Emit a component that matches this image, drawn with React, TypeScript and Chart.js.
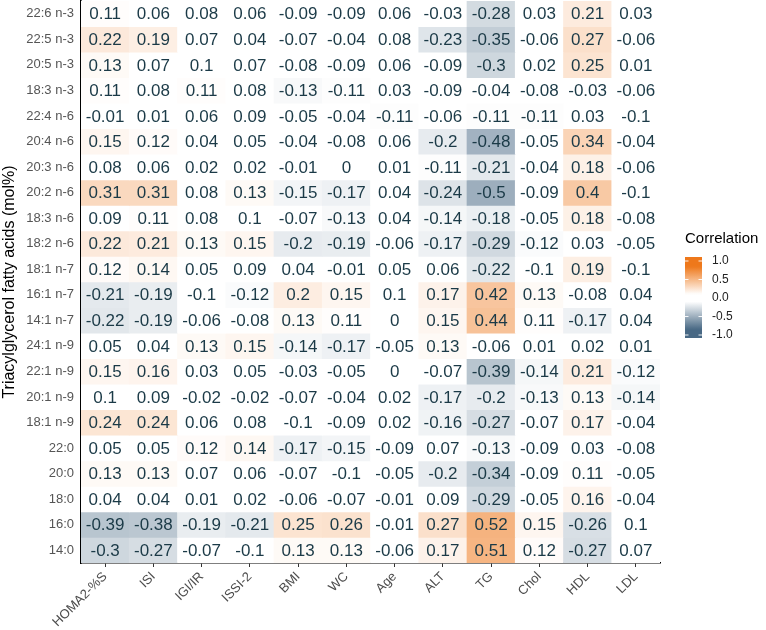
import React, { useEffect, useRef } from "react";
import { Chart, registerables } from "chart.js";

Chart.register(...registerables);

const columns = ["HOMA2-%S", "ISI", "IGI/IR", "ISSI-2", "BMI", "WC", "Age", "ALT", "TG", "Chol", "HDL", "LDL"];

const rowLabels = [
  "22:6 n-3", "22:5 n-3", "20:5 n-3", "18:3 n-3", "22:4 n-6", "20:4 n-6", "20:3 n-6", "20:2 n-6",
  "18:3 n-6", "18:2 n-6", "18:1 n-7", "16:1 n-7", "14:1 n-7", "24:1 n-9", "22:1 n-9", "20:1 n-9",
  "18:1 n-9", "22:0", "20:0", "18:0", "16:0", "14:0",
];

const r22_6n3 = [0.11, 0.06, 0.08, 0.06, -0.09, -0.09, 0.06, -0.03, -0.28, 0.03, 0.21, 0.03];
const r22_5n3 = [0.22, 0.19, 0.07, 0.04, -0.07, -0.04, 0.08, -0.23, -0.35, -0.06, 0.27, -0.06];
const r20_5n3 = [0.13, 0.07, 0.1, 0.07, -0.08, -0.09, 0.06, -0.09, -0.3, 0.02, 0.25, 0.01];
const r18_3n3 = [0.11, 0.08, 0.11, 0.08, -0.13, -0.11, 0.03, -0.09, -0.04, -0.08, -0.03, -0.06];
const r22_4n6 = [-0.01, 0.01, 0.06, 0.09, -0.05, -0.04, -0.11, -0.06, -0.11, -0.11, 0.03, -0.1];
const r20_4n6 = [0.15, 0.12, 0.04, 0.05, -0.04, -0.08, 0.06, -0.2, -0.48, -0.05, 0.34, -0.04];
const r20_3n6 = [0.08, 0.06, 0.02, 0.02, -0.01, 0, 0.01, -0.11, -0.21, -0.04, 0.18, -0.06];
const r20_2n6 = [0.31, 0.31, 0.08, 0.13, -0.15, -0.17, 0.04, -0.24, -0.5, -0.09, 0.4, -0.1];
const r18_3n6 = [0.09, 0.11, 0.08, 0.1, -0.07, -0.13, 0.04, -0.14, -0.18, -0.05, 0.18, -0.08];
const r18_2n6 = [0.22, 0.21, 0.13, 0.15, -0.2, -0.19, -0.06, -0.17, -0.29, -0.12, 0.03, -0.05];
const r18_1n7 = [0.12, 0.14, 0.05, 0.09, 0.04, -0.01, 0.05, 0.06, -0.22, -0.1, 0.19, -0.1];
const r16_1n7 = [-0.21, -0.19, -0.1, -0.12, 0.2, 0.15, 0.1, 0.17, 0.42, 0.13, -0.08, 0.04];
const r14_1n7 = [-0.22, -0.19, -0.06, -0.08, 0.13, 0.11, 0, 0.15, 0.44, 0.11, -0.17, 0.04];
const r24_1n9 = [0.05, 0.04, 0.13, 0.15, -0.14, -0.17, -0.05, 0.13, -0.06, 0.01, 0.02, 0.01];
const r22_1n9 = [0.15, 0.16, 0.03, 0.05, -0.03, -0.05, 0, -0.07, -0.39, -0.14, 0.21, -0.12];
const r20_1n9 = [0.1, 0.09, -0.02, -0.02, -0.07, -0.04, 0.02, -0.17, -0.2, -0.13, 0.13, -0.14];
const r18_1n9 = [0.24, 0.24, 0.06, 0.08, -0.1, -0.09, 0.02, -0.16, -0.27, -0.07, 0.17, -0.04];
const r22_0 = [0.05, 0.05, 0.12, 0.14, -0.17, -0.15, -0.09, 0.07, -0.13, -0.09, 0.03, -0.08];
const r20_0 = [0.13, 0.13, 0.07, 0.06, -0.07, -0.1, -0.05, -0.2, -0.34, -0.09, 0.11, -0.05];
const r18_0 = [0.04, 0.04, 0.01, 0.02, -0.06, -0.07, -0.01, 0.09, -0.29, -0.05, 0.16, -0.04];
const r16_0 = [-0.39, -0.38, -0.19, -0.21, 0.25, 0.26, -0.01, 0.27, 0.52, 0.15, -0.26, 0.1];
const r14_0 = [-0.3, -0.27, -0.07, -0.1, 0.13, 0.13, -0.06, 0.17, 0.51, 0.12, -0.27, 0.07];

const rowValues = [
  r22_6n3, r22_5n3, r20_5n3, r18_3n3, r22_4n6, r20_4n6, r20_3n6, r20_2n6, r18_3n6, r18_2n6, r18_1n7,
  r16_1n7, r14_1n7, r24_1n9, r22_1n9, r20_1n9, r18_1n9, r22_0, r20_0, r18_0, r16_0, r14_0,
];

const legendTicks = [1.0, 0.5, 0.0, -0.5, -1.0];
const legendTitle = "Correlation";
const yTitle = "Triacylglycerol fatty acids (mol%)";

const FONT = "'Liberation Sans', Arial, Helvetica, sans-serif";
const POS = [238, 120, 27];
const NEG = [72, 104, 132];
const TEXT = "#1b3a47";

function strength(v: number) {
  const t = (Math.abs(v) - 0.1) / 0.75;
  return Math.max(0, Math.min(1, t));
}
function mix(c: number[], k: number) {
  const r = Math.round(255 + (c[0] - 255) * k);
  const g = Math.round(255 + (c[1] - 255) * k);
  const b = Math.round(255 + (c[2] - 255) * k);
  return `rgb(${r},${g},${b})`;
}
function cellColor(v: number) {
  return v >= 0 ? mix(POS, strength(v)) : mix(NEG, strength(v));
}

const NROWS = rowLabels.length;

const labelsPlugin = {
  id: "cellLabels",
  afterDatasetsDraw(chart: any) {
    const { ctx, scales } = chart;
    const x = scales.x;
    const y = scales.y;
    ctx.save();
    ctx.font = `17px ${FONT}`;
    ctx.fillStyle = TEXT;
    ctx.textAlign = "center";
    ctx.textBaseline = "middle";
    rowValues.forEach((row, i) => {
      row.forEach((v, j) => {
        ctx.fillText(String(v), x.getPixelForValue(j), y.getPixelForValue(NROWS - 0.5 - i) + 1);
      });
    });
    ctx.restore();
  },
};

const legendPlugin = {
  id: "colorLegend",
  afterDraw(chart: any) {
    const { ctx, chartArea } = chart;
    const left = chartArea.right + 25;
    const barW = 17;
    const barTop = 257;
    const barBot = 338;
    const tickTop = 261;
    const tickBot = 335;
    ctx.save();
    ctx.font = `15px ${FONT}`;
    ctx.fillStyle = "#000";
    ctx.textAlign = "left";
    ctx.textBaseline = "middle";
    ctx.fillText(legendTitle, left, 239);
    const grad = ctx.createLinearGradient(0, barTop, 0, barBot);
    for (let s = 0; s <= 40; s++) {
      const yy = barTop + (s / 40) * (barBot - barTop);
      const v = 1 - ((yy - tickTop) / (tickBot - tickTop)) * 2;
      grad.addColorStop(s / 40, cellColor(Math.max(-1, Math.min(1, v))));
    }
    ctx.fillStyle = grad;
    ctx.fillRect(left, barTop, barW, barBot - barTop);
    ctx.strokeStyle = "rgba(255,255,255,0.9)";
    ctx.lineWidth = 1;
    ctx.font = `12px ${FONT}`;
    ctx.fillStyle = "#222";
    legendTicks.forEach((v) => {
      const yy = tickTop + ((1 - v) / 2) * (tickBot - tickTop);
      ctx.beginPath();
      ctx.moveTo(left, yy);
      ctx.lineTo(left + 3.5, yy);
      ctx.moveTo(left + barW - 3.5, yy);
      ctx.lineTo(left + barW, yy);
      ctx.stroke();
      ctx.fillText(v.toFixed(1), left + 27, yy);
    });
    ctx.restore();
  },
};

export default function App() {
  const ref = useRef<HTMLCanvasElement | null>(null);
  useEffect(() => {
    if (!ref.current) return;
    Chart.defaults.font.family = FONT;
    const datasets = rowValues.map((row, i) => ({
      label: rowLabels[i],
      data: row.map(() => [NROWS - 1 - i, NROWS - i]),
      backgroundColor: row.map((v) => cellColor(v)),
      borderWidth: 0,
      barPercentage: 1,
      categoryPercentage: 1,
      grouped: false,
    }));
    const chart = new Chart(ref.current, {
      type: "bar",
      data: { labels: columns, datasets: datasets as any },
      plugins: [labelsPlugin, legendPlugin],
      options: {
        animation: false,
        responsive: true,
        maintainAspectRatio: false,
        layout: { padding: { left: 0, right: 106, top: 1, bottom: 0 } },
        plugins: { legend: { display: false }, tooltip: { enabled: false } },
        scales: {
          x: {
            type: "category",
            offset: true,
            grid: { display: true, drawOnChartArea: false, drawTicks: true, tickLength: 4, offset: false, color: "#333", lineWidth: 1 },
            border: { display: true, color: "#000", width: 1.6 },
            ticks: {
              autoSkip: false,
              minRotation: 45,
              maxRotation: 45,
              color: "#4d4d4d",
              padding: 2,
              font: { size: 13, family: FONT },
            },
            afterFit: (scale: any) => {
              scale.height = 67;
              scale.paddingLeft = 0;
              scale.paddingRight = 0;
            },
          } as any,
          y: {
            type: "linear",
            min: 0,
            max: NROWS,
            grid: { display: true, drawOnChartArea: false, drawTicks: false },
            border: { display: true, color: "#000", width: 1.6 },
            afterBuildTicks: (scale: any) => {
              scale.ticks = rowLabels.map((_, i) => ({ value: NROWS - 0.5 - i }));
            },
            ticks: {
              autoSkip: false,
              color: "#555",
              padding: 7,
              font: { size: 13, family: FONT },
              callback: (value: any) => rowLabels[Math.round(NROWS - 0.5 - Number(value))] ?? "",
            },
            title: {
              display: true,
              text: yTitle,
              color: "#000",
              font: { size: 16, family: FONT },
              padding: { top: 0, bottom: 0 },
            },
            afterFit: (scale: any) => {
              scale.width = 81;
              scale.paddingTop = 0;
              scale.paddingBottom = 0;
            },
          } as any,
        },
      },
    });
    return () => chart.destroy();
  }, []);
  return (
    <div style={{ position: "fixed", left: 0, top: 0, width: 766, height: 630, background: "#fff" }}>
      <canvas ref={ref} />
    </div>
  );
}
